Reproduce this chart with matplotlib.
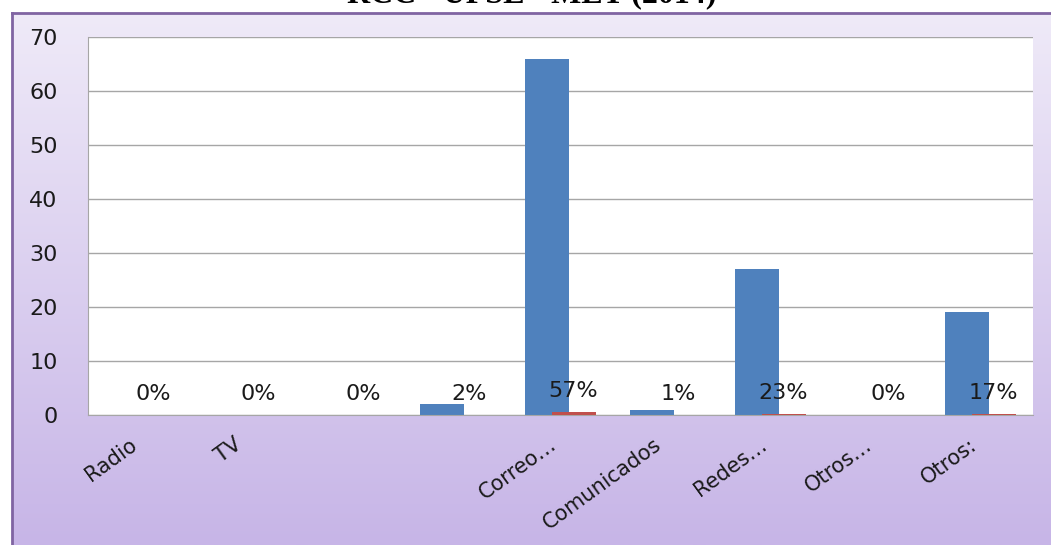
import matplotlib.pyplot as plt
import numpy as np

categorias = ['Radio', 'TV', '', '', 'Correo…', 'Comunicados', 'Redes…', 'Otros…', 'Otros:']
cantidades = [0, 0, 0, 2, 66, 1, 27, 0, 19]
porcentajes = [0.00, 0.00, 0.00, 0.02, 0.57, 0.01, 0.23, 0.00, 0.17]
titulo = 'RCC - UPSE - MET (2014)'

azul = '#4F81BD'
rojo = '#C0504D'
borde = '#8064A2'
gris = '#A6A6A6'

plt.rcParams['font.family'] = ['DejaVu Sans']

fig = plt.figure(figsize=(10.51, 5.45), dpi=100)
W, H = 1051, 545

# fondo degradado lila del area del grafico
fondo = fig.add_axes([12 / W, 0, 1 - 12 / W, 1 - 13 / H], zorder=0)
arriba = np.array([239, 234, 248]) / 255
abajo = np.array([199, 181, 231]) / 255
t = np.linspace(0, 1, 256)[:, None]
grad = (1 - t) * arriba + t * abajo
fondo.imshow(grad[:, None, :], aspect='auto', extent=[0, 1, 0, 1])
fondo.set_xticks([])
fondo.set_yticks([])
for lado in ['right', 'bottom']:
    fondo.spines[lado].set_visible(False)
for lado in ['top', 'left']:
    fondo.spines[lado].set_color(borde)
    fondo.spines[lado].set_linewidth(2)

# el titulo queda recortado por el borde superior
fig.text(532 / W, 1 - 2 / H, titulo, ha='center', va='baseline',
         fontfamily='Liberation Serif', fontweight='bold', fontsize=23)

ax = fig.add_axes([88 / W, 1 - 415 / H, (1033 - 88) / W, (415 - 37) / H], zorder=1)
ax.set_facecolor('white')
x = np.arange(len(categorias))
ancho = 0.42
ax.bar(x - 0.125, cantidades, ancho, color=azul, zorder=2)
ax.bar(x + 0.125, porcentajes, ancho, color=rojo, zorder=3)

for xi, p in zip(x, porcentajes):
    ax.annotate('{:.0%}'.format(p), (xi + 0.125, p), xytext=(0, 8),
                textcoords='offset points', ha='center', va='bottom',
                fontsize=16, color='#1a1a1a', zorder=4)

ax.set_xlim(-0.5, len(categorias) - 0.5)
ax.set_ylim(0, 70)
ax.set_yticks(range(0, 71, 10))
ax.yaxis.grid(True, color=gris, linewidth=1)
ax.set_axisbelow(True)
ax.tick_params(axis='y', length=0, pad=22, labelsize=16, labelcolor='#1a1a1a')
ax.set_xticks(x)
ax.set_xticklabels(categorias, rotation=36, ha='right', fontsize=15, color='#1a1a1a')
ax.tick_params(axis='x', length=0, pad=14)
for lado in ['top', 'right']:
    ax.spines[lado].set_visible(False)
for lado in ['left', 'bottom']:
    ax.spines[lado].set_color(gris)

fig.savefig('out.png', dpi=100)
